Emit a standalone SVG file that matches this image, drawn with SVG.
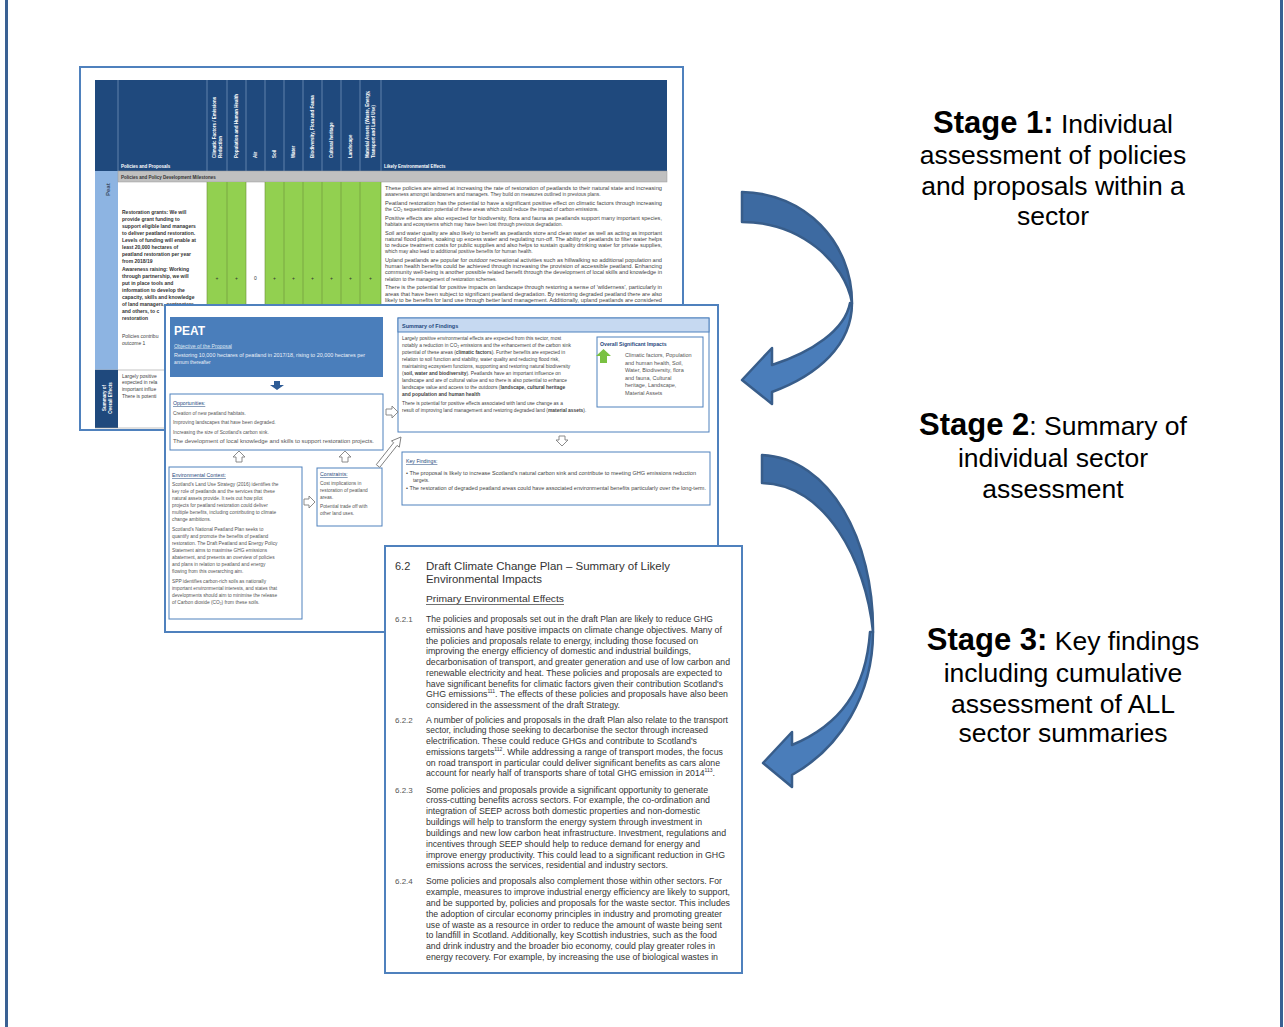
<svg xmlns="http://www.w3.org/2000/svg" width="1284" height="1027" viewBox="0 0 1284 1027">
<style>
text{font-family:"Liberation Sans",Arial,Helvetica,sans-serif}
.frame{fill:#fff;stroke:#4F81BD;stroke-width:2}
.hdr{fill:#fff;font-weight:bold;font-size:4.5px}
.pol{font-size:5px;font-weight:bold;fill:#333}
.polr{font-size:5px;fill:#444}
.eff{font-size:4.9px;fill:#444}
.sm{font-size:4.8px;fill:#555}
.ttl{font-size:5.2px;fill:#1F497D;text-decoration:underline}
.box{fill:#fff;stroke:#4F81BD;stroke-width:1}
.hol{fill:#fff;stroke:#7F7F7F;stroke-width:0.9;stroke-linejoin:round}
.body{font-size:8.7px;fill:#333}
.num{font-size:8px;fill:#555}
.stg{font-size:26.5px;fill:#000}
.sb{font-weight:bold;font-size:31px}
.gline{stroke:#6B8E3A;stroke-width:0.6}
.hline{stroke:#8DA9CF;stroke-width:0.6}
.back{fill:#3D6AA1;stroke:#385D8A;stroke-width:2.5;stroke-linejoin:round}
.front{fill:#4A7DBA;stroke:#385D8A;stroke-width:2.5;stroke-linejoin:round}
</style>

<g id="outer-frame">
<line x1="6.5" y1="0" x2="6.5" y2="1027" stroke="#3A6193" stroke-width="3"/>
<line x1="1281.5" y1="0" x2="1281.5" y2="1027" stroke="#3A6193" stroke-width="3"/>
</g>

<g id="doc1-assessment-table">
<rect class="frame" x="80" y="67" width="603" height="363"/>
<rect x="95" y="80" width="572" height="91" fill="#1F497D"/>
<g class="hline">
<line x1="118" y1="80" x2="118" y2="171"/><line x1="207" y1="80" x2="207" y2="171"/><line x1="227" y1="80" x2="227" y2="171"/><line x1="246" y1="80" x2="246" y2="171"/><line x1="265" y1="80" x2="265" y2="171"/><line x1="284" y1="80" x2="284" y2="171"/><line x1="303" y1="80" x2="303" y2="171"/><line x1="322" y1="80" x2="322" y2="171"/><line x1="341" y1="80" x2="341" y2="171"/><line x1="360" y1="80" x2="360" y2="171"/><line x1="381" y1="80" x2="381" y2="171"/>
</g>
<text class="hdr" x="121" y="167.5">Policies and Proposals</text>
<text class="hdr" x="384" y="167.5">Likely Environmental Effects</text>
<text class="hdr" transform="translate(216,158) rotate(-90)">Climatic Factors / Emissions</text>
<text class="hdr" transform="translate(221.5,158) rotate(-90)">Reduction</text>
<text class="hdr" transform="translate(238,158) rotate(-90)">Population and Human Health</text>
<text class="hdr" transform="translate(257,158) rotate(-90)">Air</text>
<text class="hdr" transform="translate(276,158) rotate(-90)">Soil</text>
<text class="hdr" transform="translate(295,158) rotate(-90)">Water</text>
<text class="hdr" transform="translate(314,158) rotate(-90)">Biodiversity, Flora and Fauna</text>
<text class="hdr" transform="translate(333,158) rotate(-90)">Cultural heritage</text>
<text class="hdr" transform="translate(352,158) rotate(-90)">Landscape</text>
<text class="hdr" transform="translate(369,158) rotate(-90)">Material Assets (Waste, Energy,</text>
<text class="hdr" transform="translate(374.5,158) rotate(-90)">Transport and Land Use)</text>

<rect x="95" y="171" width="23" height="199" fill="#8DB4E2"/>
<text transform="translate(109.5,196) rotate(-90)" font-size="6" font-weight="bold" fill="#3B4E66">Peat</text>
<rect x="118" y="171" width="549" height="11" fill="#C0C0C0" stroke="#9A9A9A" stroke-width="0.5"/>
<text x="121" y="179" font-size="4.5" font-weight="bold" fill="#333">Policies and Policy Development Milestones</text>

<g fill="#92D050">
<rect x="207" y="182" width="39" height="188"/>
<rect x="265" y="182" width="116" height="188"/>
</g>
<g class="gline">
<line x1="207" y1="182" x2="207" y2="370"/><line x1="227" y1="182" x2="227" y2="370"/><line x1="246" y1="182" x2="246" y2="370"/><line x1="265" y1="182" x2="265" y2="370"/><line x1="284" y1="182" x2="284" y2="370"/><line x1="303" y1="182" x2="303" y2="370"/><line x1="322" y1="182" x2="322" y2="370"/><line x1="341" y1="182" x2="341" y2="370"/><line x1="360" y1="182" x2="360" y2="370"/><line x1="381" y1="182" x2="381" y2="370"/>
</g>
<g font-size="5" fill="#333" text-anchor="middle">
<text x="217" y="280">+</text><text x="236.5" y="280">+</text><text x="255.5" y="280">0</text><text x="274.5" y="280">+</text><text x="293.5" y="280">+</text><text x="312.5" y="280">+</text><text x="331.5" y="280">+</text><text x="350.5" y="280">+</text><text x="370.5" y="280">+</text>
</g>

<g class="pol">
<text x="122" y="214">Restoration grants: We will</text>
<text x="122" y="221">provide grant funding to</text>
<text x="122" y="228">support eligible land managers</text>
<text x="122" y="235">to deliver peatland restoration.</text>
<text x="122" y="242">Levels of funding will enable at</text>
<text x="122" y="249">least 20,000 hectares of</text>
<text x="122" y="255.5">peatland restoration per year</text>
<text x="122" y="262.5">from 2018/19</text>
<text x="122" y="270.5">Awareness raising: Working</text>
<text x="122" y="277.5">through partnership, we will</text>
<text x="122" y="284.5">put in place tools and</text>
<text x="122" y="291.5">information to develop the</text>
<text x="122" y="298.5">capacity, skills and knowledge</text>
<text x="122" y="305.5">of land managers, contractors</text>
<text x="122" y="312.5">and others, to c</text>
<text x="122" y="319.5">restoration</text>
</g>
<text class="polr" x="122" y="338">Policies contribu</text>
<text class="polr" x="122" y="344.5">outcome 1</text>

<g class="eff">
<text x="385" y="190" textLength="277" lengthAdjust="spacingAndGlyphs">These policies are aimed at increasing the rate of restoration of peatlands to their natural state and increasing</text>
<text x="385" y="196.2">awareness amongst landowners and managers.  They build on measures outlined in previous plans.</text>
<text x="385" y="204.9" textLength="277" lengthAdjust="spacingAndGlyphs">Peatland restoration has the potential to have a significant positive effect on climatic factors through increasing</text>
<text x="385" y="211.1">the CO₂ sequestration potential of these areas which could reduce the impact of carbon emissions.</text>
<text x="385" y="219.8" textLength="277" lengthAdjust="spacingAndGlyphs">Positive effects are also expected for biodiversity, flora and fauna as peatlands support many important species,</text>
<text x="385" y="226">habitats and ecosystems which may have been lost through previous degradation.</text>
<text x="385" y="234.7" textLength="277" lengthAdjust="spacingAndGlyphs">Soil and water quality are also likely to benefit as peatlands store and clean water as well as acting as important</text>
<text x="385" y="240.9" textLength="277" lengthAdjust="spacingAndGlyphs">natural flood plains, soaking up excess water and regulating run-off.  The ability of peatlands to filter water helps</text>
<text x="385" y="247.1" textLength="277" lengthAdjust="spacingAndGlyphs">to reduce treatment costs for public supplies and also helps to sustain quality drinking water for private supplies,</text>
<text x="385" y="253.3">which may also lead to additional positive benefits for human health.</text>
<text x="385" y="262" textLength="277" lengthAdjust="spacingAndGlyphs">Upland peatlands are popular for outdoor recreational activities such as hillwalking so additional population and</text>
<text x="385" y="268.2" textLength="277" lengthAdjust="spacingAndGlyphs">human health benefits could be achieved through increasing the provision of accessible peatland.  Enhancing</text>
<text x="385" y="274.4" textLength="277" lengthAdjust="spacingAndGlyphs">community well-being is another possible related benefit through the development of local skills and knowledge in</text>
<text x="385" y="280.6">relation to the management of restoration schemes.</text>
<text x="385" y="289.3" textLength="277" lengthAdjust="spacingAndGlyphs">There is the potential for positive impacts on landscape through restoring a sense of 'wilderness', particularly in</text>
<text x="385" y="295.5" textLength="277" lengthAdjust="spacingAndGlyphs">areas that have been subject to significant peatland degradation.   By restoring degraded peatland there are also</text>
<text x="385" y="301.7" textLength="277" lengthAdjust="spacingAndGlyphs">likely to be benefits for land use through better land management. Additionally, upland peatlands are considered</text>
</g>

<line x1="95" y1="370" x2="667" y2="370" stroke="#9A9A9A" stroke-width="0.6"/>
<rect x="95" y="370" width="23" height="58" fill="#1F497D"/>
<text class="hdr" text-anchor="middle" transform="translate(106,398) rotate(-90)">Summary of</text>
<text class="hdr" text-anchor="middle" transform="translate(112,398) rotate(-90)">Overall Effects</text>
<text class="polr" x="122" y="377.5">Largely positive</text>
<text class="polr" x="122" y="384">expected in rela</text>
<text class="polr" x="122" y="390.5">important influe</text>
<text class="polr" x="122" y="398">There is potenti</text>
<line x1="95" y1="428" x2="667" y2="428" stroke="#9A9A9A" stroke-width="0.6"/>
</g>

<g id="doc2-sector-summary">
<rect class="frame" x="165" y="305" width="553" height="327"/>
<rect x="170" y="317" width="213" height="60" fill="#4A7EBB"/>
<text x="174" y="335" font-size="12" font-weight="bold" fill="#fff">PEAT</text>
<text x="174" y="347.5" font-size="5.2" fill="#DCE6F2" text-decoration="underline">Objective of the Proposal</text>
<text x="174" y="357" font-size="4.8" fill="#EAF0F8" textLength="191" lengthAdjust="spacingAndGlyphs">Restoring 10,000 hectares of peatland in 2017/18, rising to 20,000 hectares per</text>
<text x="174" y="363.5" font-size="4.8" fill="#EAF0F8">annum thereafter</text>
<path d="M274,381 H280 V385 H284 L277,390 L270,385 H274 Z" fill="#2E5C96"/>

<rect class="box" x="170" y="394" width="213" height="56"/>
<text class="ttl" x="173" y="405">Opportunities:</text>
<text class="sm" x="173" y="414.5">Creation of new peatland habitats.</text>
<text class="sm" x="173" y="424">Improving landscapes that have been degraded.</text>
<text class="sm" x="173" y="433.5">Increasing the size of Scotland's carbon sink.</text>
<text class="sm" x="173" y="442.5" textLength="201" lengthAdjust="spacingAndGlyphs">The development of local knowledge and skills to support restoration projects.</text>

<rect class="box" x="169" y="467" width="133" height="152"/>
<text class="ttl" x="172" y="477">Environmental Context:</text>
<g class="sm" font-size="4.7">
<text x="172" y="486">Scotland's Land Use Strategy (2016) identifies the</text>
<text x="172" y="493">key role of peatlands and the services that these</text>
<text x="172" y="500">natural assets provide.  It sets out how pilot</text>
<text x="172" y="507">projects for peatland restoration could deliver</text>
<text x="172" y="514">multiple benefits, including contributing to climate</text>
<text x="172" y="521">change ambitions.</text>
<text x="172" y="531">Scotland's National Peatland Plan seeks to</text>
<text x="172" y="538">quantify and promote the benefits of peatland</text>
<text x="172" y="545">restoration. The Draft Peatland and Energy Policy</text>
<text x="172" y="552">Statement aims to maximise GHG emissions</text>
<text x="172" y="559">abatement, and presents an overview of policies</text>
<text x="172" y="566">and plans in relation to peatland and energy</text>
<text x="172" y="573">flowing from this overarching aim.</text>
<text x="172" y="583">SPP identifies carbon-rich soils as nationally</text>
<text x="172" y="590">important environmental interests, and states that</text>
<text x="172" y="597">developments should aim to minimise the release</text>
<text x="172" y="604">of Carbon dioxide (CO₂) from these soils.</text>
</g>

<rect class="box" x="317" y="468" width="65" height="58"/>
<text class="ttl" x="320" y="476">Constraints:</text>
<g class="sm" font-size="4.7">
<text x="320" y="484.5">Cost implications in</text>
<text x="320" y="491.5">restoration of peatland</text>
<text x="320" y="498.5">areas.</text>
<text x="320" y="507.5">Potential trade off with</text>
<text x="320" y="514.5">other land uses.</text>
</g>

<rect class="box" x="398" y="318" width="311" height="114"/>
<rect x="398" y="318" width="311" height="14" fill="#C6D9F1" stroke="#4F81BD" stroke-width="1"/>
<text x="402" y="327.5" font-size="5.5" font-weight="bold" fill="#1F497D">Summary of Findings</text>
<g class="eff">
<text x="402" y="339.5">Largely positive environmental effects are expected from this sector, most</text>
<text x="402" y="346.5">notably a reduction in CO₂ emissions and the enhancement of the carbon sink</text>
<text x="402" y="353.5">potential of these areas (<tspan font-weight="bold">climatic factors</tspan>).  Further benefits are expected in</text>
<text x="402" y="360.5">relation to soil function and stability, water quality and reducing flood risk,</text>
<text x="402" y="367.5">maintaining ecosystem functions, supporting and restoring natural biodiversity</text>
<text x="402" y="374.5">(<tspan font-weight="bold">soil, water and biodiversity</tspan>).  Peatlands have an important influence on</text>
<text x="402" y="381.5">landscape and are of cultural value and so there is also potential to enhance</text>
<text x="402" y="388.5">landscape value and access to the outdoors (<tspan font-weight="bold">landscape, cultural heritage</tspan></text>
<text x="402" y="395.5" font-weight="bold">and population and human health</text>
<text x="402" y="404.5">There is potential for positive effects associated with land use change as a</text>
<text x="402" y="411.5">result of improving land management and restoring degraded land (<tspan font-weight="bold">material assets</tspan>).</text>
</g>

<rect class="box" x="597" y="337" width="106" height="70"/>
<text x="600" y="346" font-size="5.2" font-weight="bold" fill="#1F497D">Overall  Significant Impacts</text>
<path d="M603.5,349 L611,356 H607 V363 H600 V356 H596 Z" fill="#7AC142"/>
<g font-size="5.5" fill="#555">
<text x="625" y="357">Climatic factors, Population</text>
<text x="625" y="364.5">and human health, Soil,</text>
<text x="625" y="372">Water, Biodiversity, flora</text>
<text x="625" y="379.5">and fauna, Cultural</text>
<text x="625" y="387">heritage, Landscape,</text>
<text x="625" y="394.5">Material Assets</text>
</g>

<rect class="box" x="402" y="452" width="308" height="53"/>
<text class="ttl" x="406" y="463">Key Findings:</text>
<text class="eff" x="406" y="475" textLength="290" lengthAdjust="spacingAndGlyphs">•  The proposal is likely to increase Scotland's natural carbon sink and contribute to meeting GHG emissions reduction</text>
<text class="eff" x="413" y="481.5">targets.</text>
<text class="eff" x="406" y="490" textLength="300" lengthAdjust="spacingAndGlyphs">•  The restoration of degraded peatland areas could have associated environmental benefits particularly over the long-term.</text>

<path class="hol" d="M239,451 L245,457 H242 V462 H236 V457 H233 Z"/>
<path class="hol" d="M345,451 L351,457 H348 V462 H342 V457 H339 Z"/>
<path class="hol" d="M386,409 H392 V406 L398,412 L392,418 V415 H386 Z"/>
<path class="hol" d="M304,499 H309 V496 L315,502 L309,508 V505 H304 Z"/>
<path class="hol" d="M559,436 H565 V440 H568 L562,446 L556,440 H559 Z"/>
<path class="hol" transform="translate(378,466) rotate(-51.6)" d="M0,-2.2 H28 V-5 L37,0 L28,5 V2.2 H0 Z"/>
</g>

<g id="doc3-key-findings">
<rect class="frame" x="385" y="546" width="357" height="427"/>
<text x="395" y="570" font-size="11" fill="#333">6.2</text>
<text x="426" y="570" font-size="11" fill="#333" textLength="244" lengthAdjust="spacingAndGlyphs">Draft Climate Change Plan – Summary of Likely</text>
<text x="426" y="583" font-size="11" fill="#333" textLength="116" lengthAdjust="spacingAndGlyphs">Environmental Impacts</text>
<text x="426" y="602" font-size="9.5" fill="#333" textLength="138" lengthAdjust="spacingAndGlyphs">Primary Environmental Effects</text>
<line x1="426" y1="604.5" x2="564" y2="604.5" stroke="#333" stroke-width="0.7"/>

<g class="num">
<text x="395" y="622">6.2.1</text>
<text x="395" y="722.5">6.2.2</text>
<text x="395" y="792.5">6.2.3</text>
<text x="395" y="884">6.2.4</text>
</g>
<g class="body">
<text x="426" y="622" textLength="287" lengthAdjust="spacingAndGlyphs">The policies and proposals set out in the draft Plan are likely to reduce GHG</text>
<text x="426" y="632.7" textLength="296" lengthAdjust="spacingAndGlyphs">emissions and have positive impacts on climate change objectives.    Many of</text>
<text x="426" y="643.5" textLength="272" lengthAdjust="spacingAndGlyphs">the policies and proposals relate to energy, including those focused on</text>
<text x="426" y="654.2" textLength="265" lengthAdjust="spacingAndGlyphs">improving the energy efficiency of domestic and industrial buildings,</text>
<text x="426" y="665" textLength="304" lengthAdjust="spacingAndGlyphs">decarbonisation of transport, and greater generation and use of low carbon and</text>
<text x="426" y="675.8" textLength="296" lengthAdjust="spacingAndGlyphs">renewable electricity and heat.  These policies and proposals are expected to</text>
<text x="426" y="686.6" textLength="297" lengthAdjust="spacingAndGlyphs">have significant benefits for climatic factors given their contribution Scotland's</text>
<text x="426" y="697.4" textLength="302" lengthAdjust="spacingAndGlyphs">GHG emissions<tspan font-size="5" dy="-4">111</tspan><tspan dy="4">.  The effects of these policies and proposals have also been</tspan></text>
<text x="426" y="708.2" textLength="194" lengthAdjust="spacingAndGlyphs">considered in the assessment of the draft Strategy.</text>

<text x="426" y="722.5" textLength="302" lengthAdjust="spacingAndGlyphs">A number of policies and proposals in the draft Plan also relate to the transport</text>
<text x="426" y="733.2" textLength="282" lengthAdjust="spacingAndGlyphs">sector, including those seeking to decarbonise the sector through increased</text>
<text x="426" y="744" textLength="271" lengthAdjust="spacingAndGlyphs">electrification.  These could reduce GHGs and contribute to Scotland's</text>
<text x="426" y="754.8" textLength="297" lengthAdjust="spacingAndGlyphs">emissions targets<tspan font-size="5" dy="-4">112</tspan><tspan dy="4">.  While addressing a range of transport modes, the focus</tspan></text>
<text x="426" y="765.6" textLength="294" lengthAdjust="spacingAndGlyphs">on road transport in particular could deliver significant benefits as cars alone</text>
<text x="426" y="776.4" textLength="289" lengthAdjust="spacingAndGlyphs">account for nearly half of transports share of total GHG emission in 2014<tspan font-size="5" dy="-4">113</tspan><tspan dy="4">.</tspan></text>

<text x="426" y="792.5" textLength="282" lengthAdjust="spacingAndGlyphs">Some policies and proposals provide a significant opportunity to generate</text>
<text x="426" y="803.2" textLength="284" lengthAdjust="spacingAndGlyphs">cross-cutting benefits across sectors.  For example, the co-ordination and</text>
<text x="426" y="813.9" textLength="274" lengthAdjust="spacingAndGlyphs">integration of SEEP across both domestic properties and non-domestic</text>
<text x="426" y="824.6" textLength="276" lengthAdjust="spacingAndGlyphs">buildings will help to transform the energy system through investment in</text>
<text x="426" y="835.8" textLength="300" lengthAdjust="spacingAndGlyphs">buildings and new low carbon heat infrastructure.  Investment, regulations and</text>
<text x="426" y="846.5" textLength="274" lengthAdjust="spacingAndGlyphs">incentives through SEEP should help to reduce demand for energy and</text>
<text x="426" y="857.5" textLength="299" lengthAdjust="spacingAndGlyphs">improve energy productivity.  This could lead to a significant reduction in GHG</text>
<text x="426" y="868.2" textLength="242" lengthAdjust="spacingAndGlyphs">emissions across the services, residential and industry sectors.</text>

<text x="426" y="884" textLength="296" lengthAdjust="spacingAndGlyphs">Some policies and proposals also complement those within other sectors.  For</text>
<text x="426" y="894.8" textLength="304" lengthAdjust="spacingAndGlyphs">example, measures to improve industrial energy efficiency  are likely to support,</text>
<text x="426" y="905.8" textLength="304" lengthAdjust="spacingAndGlyphs">and be supported by, policies and proposals for the waste sector.  This includes</text>
<text x="426" y="916.5" textLength="296" lengthAdjust="spacingAndGlyphs">the adoption of circular economy principles in industry and promoting greater</text>
<text x="426" y="927.5" textLength="296" lengthAdjust="spacingAndGlyphs">use of waste as a resource in order to reduce the amount of waste being sent</text>
<text x="426" y="938.2" textLength="291" lengthAdjust="spacingAndGlyphs">to landfill in Scotland.  Additionally, key Scottish industries, such as the food</text>
<text x="426" y="949.2" textLength="289" lengthAdjust="spacingAndGlyphs">and drink industry and the broader bio economy, could play greater roles in</text>
<text x="426" y="960" textLength="292" lengthAdjust="spacingAndGlyphs">energy recovery.  For example, by increasing the use of biological wastes in</text>
</g>
</g>

<g id="connectors">
<path class="back" d="M742,192 C805,193 852,242 852,303 C845,262 800,222 742,222 Z"/>
<path class="front" d="M852,303 C852,345 818,375 772,392 L772,404 L742,380 L772,348 L772,365 C812,352 845,330 850,303 Z"/>
<path class="back" d="M762,455 C830,458 874,540 873,632 C866,560 825,484 762,483 Z"/>
<path class="front" d="M873,632 C873,695 840,748 792,775 L792,787 L763,763 L792,732 L792,745 C840,725 866,690 870,632 Z"/>
</g>

<g id="stage1-label" class="stg" text-anchor="middle">
<text x="1053" y="133"><tspan class="sb">Stage 1:</tspan> Individual</text>
<text x="1053" y="164">assessment of policies</text>
<text x="1053" y="195">and proposals within a</text>
<text x="1053" y="225">sector</text>
</g>
<g id="stage2-label" class="stg" text-anchor="middle">
<text x="1053" y="435"><tspan class="sb">Stage 2</tspan>: Summary of</text>
<text x="1053" y="467">individual sector</text>
<text x="1053" y="498">assessment</text>
</g>
<g id="stage3-label" class="stg" text-anchor="middle">
<text x="1063" y="650"><tspan class="sb">Stage 3:</tspan> Key findings</text>
<text x="1063" y="682">including cumulative</text>
<text x="1063" y="713">assessment of ALL</text>
<text x="1063" y="742">sector summaries</text>
</g>
</svg>
